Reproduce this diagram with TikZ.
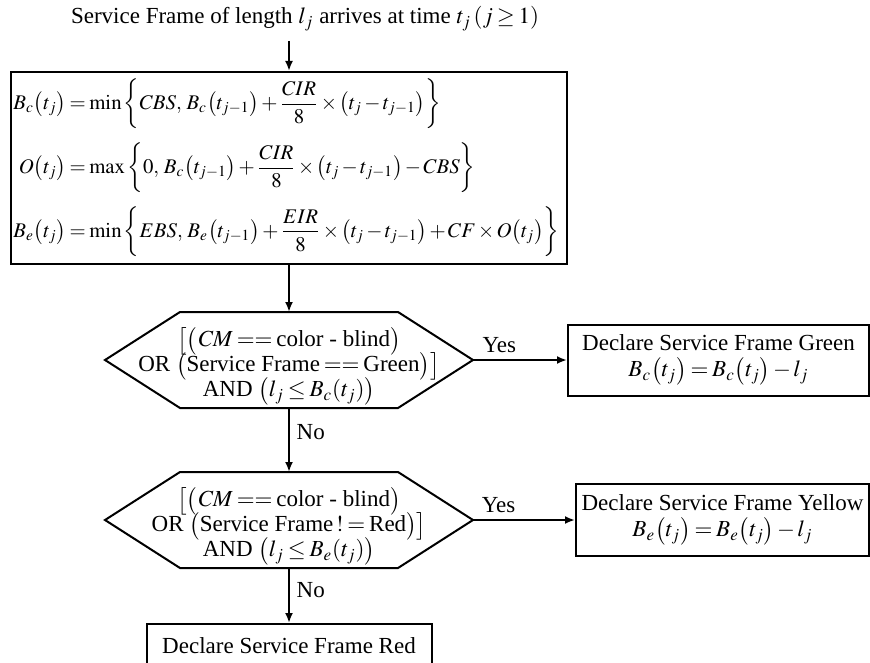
\documentclass[tikz,border=0pt]{standalone}
\usepackage{amsmath}
\usepackage{mathptmx}
\usepackage{fontspec}
\setmainfont{Liberation Serif}
\usetikzlibrary{arrows.meta, positioning, calc}

% tighter math, closer to the original equation editor
\thinmuskip=2mu
\medmuskip=2mu plus 1mu
\thickmuskip=3mu plus 2mu

% hexagon round a decision node (fixed size), corner coordinates named
\newcommand{\hexbox}[1]{%
  \path ([yshift=3pt]#1.center) coordinate (#1-mid);
  \draw[line] ([shift={(-54.5pt,24pt)}]#1-mid) -- coordinate (#1-top) ([shift={(54.5pt,24pt)}]#1-mid)
    -- ([xshift=92pt]#1-mid) coordinate (#1-tip)
    -- ([shift={(54.5pt,-24pt)}]#1-mid) -- coordinate (#1-bot) ([shift={(-54.5pt,-24pt)}]#1-mid)
    -- ([xshift=-92pt]#1-mid) -- cycle;}

\newcommand{\eqq}{\mathrel{{=}{=}}}

\begin{document}
\begin{tikzpicture}[
  x=1pt, y=1pt,
  font=\fontsize{11.5}{13}\selectfont,
  block/.style = {draw, line width=1pt, align=center, inner sep=1pt},
  decision/.style = {inner sep=0pt, align=center, font=\fontsize{11.5}{12.5}\selectfont,
    execute at begin node={\lineskiplimit=-20pt\relax}},
  line/.style = {line width=1pt},
  arrow/.style = {line width=1pt, -{Latex[length=5pt, width=4pt]}},
  node distance=24pt and 47pt
]
\useasboundingbox (0,0) rectangle (435,-331);

% ======================================================
% Token bucket update
% ======================================================
\node[block, minimum width=276pt, minimum height=96pt, font=\fontsize{10.4}{13}\selectfont] (update) at (144.5,-84) {
  $\begin{aligned}
    B_c\bigl(t_j\bigr) &= \min\left\{CBS,\, B_c\bigl(t_{j-1}\bigr) + \frac{CIR}{8}\times\bigl(t_j - t_{j-1}\bigr)\right\}\\[3pt]
    O\bigl(t_j\bigr) &= \max\left\{0,\, B_c\bigl(t_{j-1}\bigr) + \frac{CIR}{8}\times\bigl(t_j - t_{j-1}\bigr) - CBS\right\}\\[3pt]
    B_e\bigl(t_j\bigr) &= \min\left\{EBS,\, B_e\bigl(t_{j-1}\bigr) + \frac{EIR}{8}\times\bigl(t_j - t_{j-1}\bigr) + CF\times O\bigl(t_j\bigr)\right\}
  \end{aligned}$
};

% Frame arrival on top
\node[above=15pt of update, xshift=8pt, inner sep=5pt] (arrival)
  {Service Frame of length $l_j$ arrives at time $t_j\left(j\geq1\right)$};
\draw[arrow] (arrival.south -| update.north) -- (update.north);

% ======================================================
% Green check
% ======================================================
\node[decision] (green_check) at (144.5,-183) {
  $\bigl[\bigl(\mathit{CM} \eqq \text{color - blind}\bigr)$\\
  OR $\bigl(\text{Service Frame} \eqq \text{Green}\bigr)\bigr]$\\
  AND $\bigl(l_j \leq B_c(t_j)\bigr)$
};
\hexbox{green_check}
\draw[arrow] (update.south) -- (green_check-top);

\node[block, right=47pt of green_check-tip, minimum width=150.5pt, minimum height=35.5pt] (green) {
  Declare Service Frame Green\\
  $B_c\bigl(t_j\bigr) = B_c\bigl(t_j\bigr) - l_j$
};
\draw[arrow] (green_check-tip) -- node[above, pos=0.28] {Yes} (green.west);

% ======================================================
% Yellow check
% ======================================================
\node[decision] (yellow_check) at (144.5,-263) {
  $\bigl[\bigl(\mathit{CM} \eqq \text{color - blind}\bigr)$\\
  OR $\bigl(\text{Service Frame}\, != \text{Red}\bigr)\bigr]$\\
  AND $\bigl(l_j \leq B_e(t_j)\bigr)$
};
\hexbox{yellow_check}
\draw[arrow] (green_check-bot) -- node[right, pos=0.375] {No} (yellow_check-top);

\node[block, right=51pt of yellow_check-tip, minimum width=146.5pt, minimum height=36pt] (yellow) {
  Declare Service Frame Yellow\\
  $B_e\bigl(t_j\bigr) = B_e\bigl(t_j\bigr) - l_j$
};
\draw[arrow] (yellow_check-tip) -- node[above, pos=0.25] {Yes} (yellow.west);

% ======================================================
% Red (nothing left)
% ======================================================
\node[block, below=27.5pt of yellow_check-bot, minimum width=142.5pt, minimum height=22pt] (red)
  {Declare Service Frame Red};
\draw[arrow] (yellow_check-bot) -- node[right, pos=0.4] {No} (red.north);
\end{tikzpicture}
\end{document}
